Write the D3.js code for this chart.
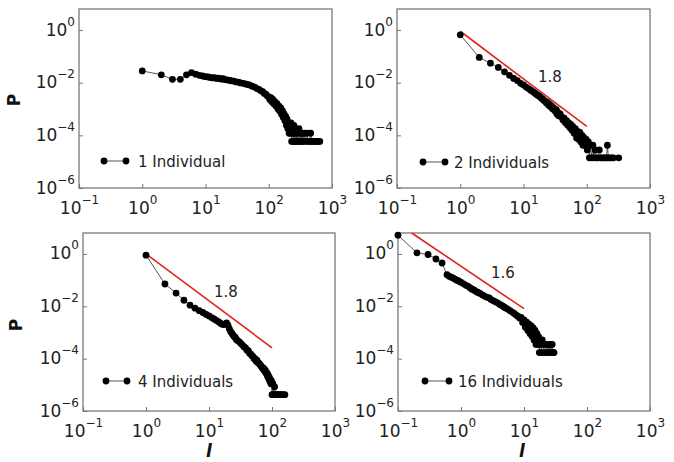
<!DOCTYPE html>
<html><head><meta charset="utf-8">
<script src="https://cdn.jsdelivr.net/npm/d3@7"></script>
<style>body{margin:0;background:#fff}svg{display:block}text{font-family:"DejaVu Sans",sans-serif}</style>
</head><body><svg id="c" width="674" height="462"></svg>
<script>
// ---------- data ----------
const xTicks = [0.1, 1, 10, 100, 1000];
const xTickExp = ["\u22121", "0", "1", "2", "3"];
const yTicks = [1, 1e-2, 1e-4, 1e-6];
const yTickExp = ["0", "\u22122", "\u22124", "\u22126"];
const legendLabels = ["1 Individual", "2 Individuals", "4 Individuals", "16 Individuals"];
const slopeLabels = [null, "1.8", "1.8", "1.6"];

const series1 = [[1,0.028],[2,0.020],[3,0.0135],[4,0.0135],[5,0.020],[6,0.024],[7,0.021],[8,0.019],[9,0.018],[10,0.017],
[11,0.0165],[12,0.0158],[13,0.0152],[14,0.0155],[15,0.0145],[16,0.0148],[17,0.014],[18,0.0138],[19,0.0142],[20,0.0132],
[22,0.0128],[24,0.0122],[26,0.0118],[28,0.0115],[30,0.0108],[33,0.0105],[36,0.0098],[40,0.0094],[44,0.0088],[48,0.0084],
[52,0.0078],[56,0.0072],[60,0.0068],[65,0.0060],[70,0.0056],[75,0.0049],[80,0.0046],[85,0.0039],[90,0.0037],[95,0.0031],
[100,0.0029],[104,0.0023],[108,0.0027],[112,0.0019],[116,0.0023],[120,0.0016],[125,0.0019],[130,0.0013],[135,0.0016],[140,0.0010],
[145,0.0013],[150,0.00082],[155,0.0011],[160,0.00062],[165,0.00085],[170,0.00048],[175,0.00066],[180,0.00036],[185,0.00052],[190,0.00024],
[195,0.00041],[200,0.00018],[205,0.00030],[210,0.00012],[215,0.00024],[220,0.00012],[225,0.00030],[230,0.000059],[235,0.00018],[240,0.00012],
[245,0.000059],[250,0.00024],[255,0.00012],[260,0.000059],[265,0.00018],[270,0.000059],[280,0.00012],[290,0.000059],[300,0.00018],[310,0.000059],
[320,0.00012],[330,0.000059],[340,0.00012],[350,0.000059],[365,0.00012],[380,0.000059],[400,0.00012],[420,0.000059],[440,0.000059],[460,0.00012],
[480,0.000059],[500,0.000059],[530,0.000059],[560,0.000059],[600,0.000059],[640,0.000059]];

const series2 = [[1,0.66],[2,0.091],[3,0.055],[4,0.038],[5,0.026],[6,0.019],[7,0.0145],[8,0.012],[9,0.0095],[10,0.0082],
[11,0.0068],[12,0.006],[13,0.0052],[14,0.0046],[15,0.0041],[16,0.0036],[17,0.0033],[18,0.003],[19,0.0026],[20,0.0024],
[21,0.0021],[22,0.002],[23,0.0017],[24,0.0018],[25,0.0014],[26,0.0015],[27,0.0012],[28,0.0013],[29,0.001],[30,0.0011],
[32,0.0008],[33,0.00095],[34,0.00063],[35,0.00075],[36,0.00055],[38,0.00065],[40,0.0005],[42,0.00038],[44,0.00045],[46,0.0003],
[48,0.00036],[50,0.00024],[52,0.0003],[54,0.0002],[56,0.00026],[58,0.00016],[60,0.00022],[63,0.00012],[66,0.00018],[69,0.00008],
[72,0.00014],[75,0.00007],[78,0.00013],[81,0.000056],[84,0.0001],[87,0.000042],[90,0.000084],[94,0.000042],[98,0.00007],[102,0.000028],
[106,0.000056],[110,0.000014],[115,0.000042],[120,0.000014],[125,0.000042],[130,0.000014],[136,0.000028],[142,0.000014],[150,0.000014],[158,0.000028],
[166,0.000014],[175,0.000014],[185,0.000014],[195,0.000014],[205,0.000014],[212,0.000042],[220,0.000014],[235,0.000014],[250,0.000014],[265,0.000014],
[320,0.000014]];

const series3 = [[1,0.9],[2,0.071],[3,0.032],[4,0.017],[5,0.011],[6,0.0085],[7,0.0068],[8,0.0058],[9,0.0049],[10,0.0043],
[11,0.0037],[12,0.0033],[13,0.0029],[14,0.0026],[15,0.0023],[16,0.0021],[17,0.0020],[18,0.0021],[19,0.0023],[20,0.0019],
[21,0.0014],[22,0.0011],[23,0.00095],[24,0.0008],[25,0.0007],[26,0.00066],[27,0.00055],[28,0.0005],[30,0.00045],[32,0.00038],
[34,0.00033],[36,0.00028],[38,0.00026],[40,0.00021],[42,0.0002],[44,0.00016],[46,0.00015],[48,0.00013],[50,0.00012],[52,0.0001],
[54,0.0001],[56,0.00008],[58,0.000085],[60,0.00007],[62,0.000066],[64,0.00006],[66,0.000055],[68,0.00005],[70,0.000046],[72,0.00004],
[74,0.000042],[76,0.000034],[78,0.000036],[80,0.000028],[82,0.00003],[84,0.000022],[86,0.000025],[88,0.000018],[90,0.00002],[92,0.000014],
[94,0.000016],[96,0.000011],[98,0.000014],[100,0.0000042],[103,0.000011],[106,0.0000042],[110,0.0000084],[114,0.0000042],[118,0.0000042],[122,0.0000042],
[128,0.0000042],[135,0.0000042],[142,0.0000042],[150,0.0000042],[160,0.0000042]];

const series4 = [[0.1,5.2],[0.2,1.1],[0.3,0.95],[0.4,0.64],[0.5,0.45],[0.6,0.16],[0.65,0.14],[0.7,0.13],[0.75,0.12],[0.8,0.11],
[0.85,0.10],[0.9,0.095],[0.95,0.088],[1.0,0.082],[1.1,0.072],[1.2,0.063],[1.3,0.058],[1.4,0.05],[1.5,0.045],[1.6,0.042],
[1.7,0.038],[1.8,0.035],[1.9,0.033],[2.0,0.031],[2.2,0.027],[2.4,0.024],[2.6,0.022],[2.8,0.021],[3.0,0.018],[3.3,0.016],
[3.6,0.0145],[3.9,0.013],[4.2,0.0115],[4.5,0.0105],[4.8,0.0095],[5.1,0.0087],[5.5,0.0078],[6.0,0.0068],[6.5,0.0060],[7.0,0.0053],
[7.5,0.0046],[8.0,0.0042],[8.5,0.0036],[9.0,0.0038],[9.5,0.0024],[10,0.0030],[10.5,0.0016],[11,0.0025],[11.5,0.0012],[12,0.0021],
[12.5,0.0009],[13,0.0018],[13.5,0.0007],[14,0.0015],[14.5,0.0005],[15,0.0012],[15.5,0.00035],[16,0.0009],[16.5,0.00035],[17,0.0007],
[17.5,0.00017],[18,0.0005],[18.5,0.00035],[19,0.00017],[19.5,0.00052],[20,0.00035],[21,0.00017],[22,0.00035],[23,0.00017],[24,0.00035],
[25,0.00017],[26,0.00035],[27,0.00017],[28,0.00035],[29,0.00017],[30,0.00017]];

const fit2 = [[1, 0.9], [100, 0.00022]];
const fit3 = [[1, 1.0], [100, 0.00026]];
const fit4 = [[0.165, 6.3], [10, 0.0081]];

const allSeries = [series1, series2, series3, series4];
const allFits = [null, fit2, fit3, fit4];

// ---------- layout ----------
const layout = [
  {x0:79,  x1:332, y0:9,   y1:188, lg:{m1:104,m2:126,y:161,tx:138}, sl:{x:0,y:0}},
  {x0:397, x1:650, y0:9,   y1:188, lg:{m1:423,m2:445,y:162,tx:454}, sl:{x:550,y:82}},
  {x0:83,  x1:335, y0:233, y1:411, lg:{m1:106,m2:127,y:381,tx:138}, sl:{x:226,y:297}},
  {x0:398, x1:650, y0:233, y1:411, lg:{m1:425,m2:449,y:381,tx:458}, sl:{x:503,y:278}}
];
const markerR = 3.4;

const svg = d3.select("#c");
const yMax = Math.pow(10, 0.8);

layout.forEach((L, i) => {
  const x = d3.scaleLog().domain([0.1, 1000]).range([L.x0, L.x1]);
  const y = d3.scaleLog().domain([1e-6, yMax]).range([L.y1, L.y0]);
  const g = svg.append("g");

  g.append("rect").attr("x", L.x0).attr("y", L.y0)
    .attr("width", L.x1 - L.x0).attr("height", L.y1 - L.y0)
    .attr("fill", "none").attr("stroke", "#6e6e6e").attr("stroke-width", 1.2);

  const ax = g.append("g").attr("transform", `translate(0,${L.y1})`)
    .call(d3.axisBottom(x).tickValues(xTicks).tickSizeInner(-4).tickSizeOuter(0).tickFormat(""));
  ax.select(".domain").remove();
  ax.selectAll("line").attr("stroke", "#777");
  ax.selectAll(".tick").each(function(d, k) {
    const t = d3.select(this).append("text").attr("y", 26).attr("text-anchor", "middle")
      .attr("fill", "#222").style("font-size", "17px");
    t.append("tspan").text("10");
    t.append("tspan").attr("dy", -10).style("font-size", "12px").text(xTickExp[k]);
  });

  const ay = g.append("g").attr("transform", `translate(${L.x0},0)`)
    .call(d3.axisLeft(y).tickValues(yTicks).tickSizeInner(-4).tickSizeOuter(0).tickFormat(""));
  ay.select(".domain").remove();
  ay.selectAll("line").attr("stroke", "#777");
  ay.selectAll(".tick").each(function(d, k) {
    const t = d3.select(this).append("text").attr("x", -4).attr("y", 5).attr("text-anchor", "end")
      .attr("fill", "#222").style("font-size", "17px");
    t.append("tspan").text("10");
    t.append("tspan").attr("dy", -10).style("font-size", "12px").text(yTickExp[k]);
  });

  if (allFits[i]) {
    g.append("path").datum(allFits[i])
      .attr("d", d3.line().x(d => x(d[0])).y(d => y(d[1])))
      .attr("fill", "none").attr("stroke", "#e2231a").attr("stroke-width", 1.6);
    g.append("text").attr("x", L.sl.x).attr("y", L.sl.y).attr("text-anchor", "middle")
      .attr("fill", "#222").style("font-size", "15px").text(slopeLabels[i]);
  }

  const data = allSeries[i];
  g.append("path").datum(data)
    .attr("d", d3.line().x(d => x(d[0])).y(d => y(d[1])))
    .attr("fill", "none").attr("stroke", "#444").attr("stroke-width", 0.9);
  g.selectAll("circle.pt").data(data).enter().append("circle").attr("class", "pt")
    .attr("cx", d => x(d[0])).attr("cy", d => y(d[1])).attr("r", markerR).attr("fill", "#000");

  const lg = L.lg;
  g.append("line").attr("x1", lg.m1).attr("x2", lg.m2).attr("y1", lg.y).attr("y2", lg.y)
    .attr("stroke", "#444").attr("stroke-width", 0.9);
  [lg.m1, lg.m2].forEach(mx => g.append("circle").attr("cx", mx).attr("cy", lg.y).attr("r", markerR).attr("fill", "#000"));
  g.append("text").attr("x", lg.tx).attr("y", lg.y + 5.5).attr("fill", "#222")
    .style("font-size", "15px").text(legendLabels[i]);
});

[[20, 100], [22, 325]].forEach(p => {
  svg.append("text").attr("transform", `translate(${p[0]},${p[1]}) rotate(-90)`)
    .attr("text-anchor", "middle").attr("fill", "#111")
    .style("font-size", "17px").style("font-weight", "bold").text("P");
});
[209, 522].forEach(px => {
  svg.append("text").attr("x", px).attr("y", 457).attr("text-anchor", "middle").attr("fill", "#111")
    .style("font-size", "17px").style("font-weight", "bold").style("font-style", "italic").text("l");
});
</script></body></html>
